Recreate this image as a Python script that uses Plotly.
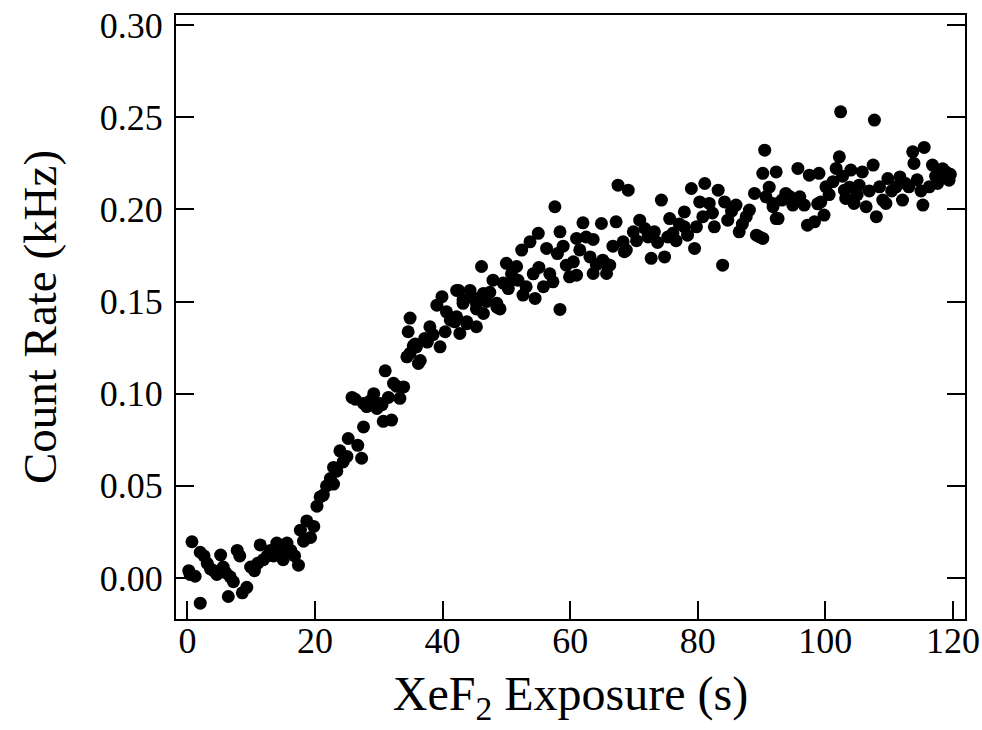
import plotly.graph_objects as go

# XeF2 exposure time (s) and count rate (kHz)
exposure_s = [
    0.2, 0.4, 0.7, 1.2, 2.0, 2.0, 2.6, 3.1, 3.6, 4.1, 4.6, 5.2, 5.6, 6.0, 6.4, 6.7,
    7.2, 7.8, 8.2, 8.6, 9.3, 9.9, 10.5, 11.0, 11.4, 11.9, 12.5, 13.0, 13.5, 14.0,
    14.5, 15.0, 15.6, 16.2, 16.8, 17.4, 17.7, 18.2, 18.7, 19.3, 19.8, 20.3, 20.8,
    21.3, 21.8, 22.4, 22.9, 22.9, 23.4, 23.9, 24.4, 25.0, 25.2, 25.8, 26.3, 26.7,
    27.3, 27.6, 27.6, 28.1, 28.6, 29.2, 29.7, 30.2, 30.5, 30.7, 31.0, 31.5, 32.0,
    32.3, 32.8, 33.3, 33.9, 34.4, 34.6, 34.9, 34.9, 35.4, 35.7, 35.9, 36.2, 36.5,
    37.2, 37.6, 38.0, 38.5, 39.1, 39.6, 39.9, 40.4, 40.6, 41.2, 41.9, 42.2, 42.2,
    42.5, 42.7, 43.2, 43.2, 43.8, 43.8, 44.3, 44.8, 45.3, 45.3, 45.3, 46.1, 46.4,
    46.4, 46.9, 47.4, 47.9, 48.5, 48.5, 49.0, 49.5, 50.0, 50.3, 50.8, 51.3, 51.6,
    51.8, 52.4, 52.6, 53.1, 53.7, 54.2, 54.5, 55.0, 55.1, 55.8, 56.3, 56.8, 57.3,
    57.6, 58.0, 58.4, 58.4, 58.9, 59.4, 59.9, 60.5, 61.0, 61.0, 61.5, 62.0, 62.5,
    63.1, 63.6, 63.6, 64.1, 64.9, 65.1, 65.5, 65.7, 66.2, 66.7, 67.2, 67.5, 68.3,
    68.5, 68.8, 69.1, 69.9, 70.4, 70.9, 71.7, 72.2, 72.7, 73.2, 73.7, 74.3, 74.8,
    75.3, 75.6, 76.1, 76.6, 77.1, 77.9, 77.9, 78.4, 79.0, 79.5, 79.8, 80.3, 80.8,
    81.1, 81.8, 82.3, 82.6, 83.2, 83.9, 84.2, 84.7, 85.3, 86.0, 86.5, 87.0, 87.6,
    88.1, 88.9, 89.2, 89.7, 90.2, 90.2, 90.5, 90.7, 91.2, 91.8, 91.8, 92.3, 92.3,
    92.6, 93.2, 93.8, 94.4, 94.9, 95.7, 96.0, 96.7, 97.2, 97.5, 98.3, 98.8, 99.0,
    99.3, 99.8, 100.1, 100.6, 101.2, 101.7, 102.2, 102.4, 102.7, 103.0, 103.2,
    103.8, 104.0, 104.5, 105.0, 105.3, 105.8, 106.4, 106.9, 107.5, 107.7, 108.0,
    108.5, 109.0, 109.5, 109.8, 110.4, 111.1, 111.7, 112.1, 112.6, 113.1, 113.7,
    113.9, 114.4, 115.0, 115.3, 115.5, 116.3, 116.8, 117.3, 117.6, 117.8, 118.4,
    118.9, 119.4, 119.6,
]
count_rate_khz = [
    0.004, 0.002, 0.0197, 0.001, -0.0136, 0.014, 0.012, 0.008, 0.005, 0.004, 0.002,
    0.0125, 0.006, 0.003, -0.010, 0.0007, -0.002, 0.015, 0.012, -0.008, -0.005,
    0.006, 0.004, 0.008, 0.018, 0.010, 0.012, 0.015, 0.012, 0.019, 0.014, 0.010,
    0.019, 0.015, 0.012, 0.007, 0.026, 0.020, 0.031, 0.022, 0.028, 0.039, 0.044,
    0.045, 0.050, 0.054, 0.060, 0.051, 0.058, 0.069, 0.063, 0.066, 0.0757, 0.098,
    0.097, 0.072, 0.065, 0.082, 0.0947, 0.093, 0.096, 0.100, 0.092, 0.0947, 0.094,
    0.085, 0.1124, 0.098, 0.0857, 0.1056, 0.104, 0.0975, 0.1037, 0.120, 0.1336,
    0.141, 0.122, 0.126, 0.127, 0.1254, 0.1164, 0.118, 0.130, 0.128, 0.1363, 0.132,
    0.148, 0.1254, 0.1526, 0.1336, 0.1444, 0.140, 0.139, 0.156, 0.1417, 0.156,
    0.1327, 0.151, 0.149, 0.139, 0.138, 0.156, 0.152, 0.149, 0.146, 0.1363, 0.169,
    0.1435, 0.1544, 0.150, 0.155, 0.1616, 0.149, 0.147, 0.146, 0.160, 0.1707, 0.157,
    0.165, 0.162, 0.169, 0.1616, 0.1779, 0.1535, 0.158, 0.1824, 0.165, 0.1517,
    0.187, 0.1685, 0.158, 0.1788, 0.165, 0.1607, 0.2014, 0.176, 0.1878, 0.1457,
    0.180, 0.1697, 0.1634, 0.1715, 0.1842, 0.1643, 0.178, 0.1927, 0.185, 0.1742,
    0.1837, 0.1652, 0.170, 0.1923, 0.1724, 0.1707, 0.1652, 0.1697, 0.180, 0.1932,
    0.2131, 0.1824, 0.177, 0.1779, 0.2104, 0.1878, 0.183, 0.1941, 0.1896, 0.185,
    0.1734, 0.1878, 0.182, 0.205, 0.1742, 0.185, 0.195, 0.187, 0.183, 0.192, 0.1986,
    0.1905, 0.186, 0.2113, 0.1788, 0.1905, 0.204, 0.196, 0.214, 0.2032, 0.198,
    0.1905, 0.2104, 0.1697, 0.204, 0.1941, 0.199, 0.2023, 0.1878, 0.192, 0.196,
    0.1996, 0.2086, 0.186, 0.185, 0.2195, 0.1842, 0.2321, 0.2068, 0.212, 0.2032,
    0.2014, 0.2203, 0.195, 0.195, 0.205, 0.2086, 0.207, 0.2023, 0.2222, 0.2068,
    0.2023, 0.1914, 0.2185, 0.1932, 0.203, 0.2195, 0.204, 0.1969, 0.2122, 0.208,
    0.215, 0.2222, 0.2285, 0.2529, 0.218, 0.2104, 0.2059, 0.212, 0.2213, 0.2032,
    0.208, 0.2131, 0.2203, 0.2014, 0.210, 0.224, 0.2484, 0.196, 0.2122, 0.205,
    0.2032, 0.2167, 0.210, 0.2122, 0.2176, 0.205, 0.214, 0.2122, 0.2312, 0.2249,
    0.216, 0.210, 0.2023, 0.2336, 0.2122, 0.224, 0.218, 0.214, 0.2167, 0.222,
    0.2203, 0.2158, 0.219,
]

x_ticks = [0, 20, 40, 60, 80, 100, 120]
y_ticks = [0.00, 0.05, 0.10, 0.15, 0.20, 0.25, 0.30]
y_tick_labels = ["0.00", "0.05", "0.10", "0.15", "0.20", "0.25", "0.30"]

FONT = "Liberation Serif, Times New Roman, serif"

fig = go.Figure(
    go.Scatter(
        x=exposure_s,
        y=count_rate_khz,
        mode="markers",
        marker=dict(size=13, color="black", line=dict(width=0)),
        showlegend=False,
    )
)

axis_common = dict(
    automargin=False,
    showgrid=False,
    zeroline=False,
    showline=True,
    linecolor="black",
    linewidth=2,
    ticks="inside",
    ticklen=18,
    tickwidth=2,
    tickcolor="black",
    ticklabeloverflow="allow",
    tickfont=dict(family=FONT, size=36, color="black"),
)

fig.update_xaxes(
    **axis_common,
    range=[-1.8, 121.9],
    tickvals=x_ticks,
    mirror=True,
    ticklabelstandoff=-11,
    title=dict(text="XeF<sub>2</sub> Exposure (s)",
               font=dict(family=FONT, size=48, color="black"), standoff=16),
)
fig.update_yaxes(
    **axis_common,
    range=[-0.0222, 0.3054],
    tickvals=y_ticks,
    ticktext=y_tick_labels,
    mirror="ticks",
    ticklabelstandoff=4,
    title=dict(text="Count Rate (kHz)",
               font=dict(family=FONT, size=47, color="black"), standoff=28),
)

fig.update_layout(
    template="none",
    width=982,
    height=730,
    margin=dict(l=176, r=17, t=15, b=111),
    paper_bgcolor="white",
    plot_bgcolor="white",
    font=dict(family=FONT, color="black"),
)

# remove the default page margin so the figure fills the window exactly
fig.write_html(
    "out.html",
    config={"displayModeBar": False},
    post_script="document.body.style.margin='0';document.body.style.overflow='hidden';",
)
